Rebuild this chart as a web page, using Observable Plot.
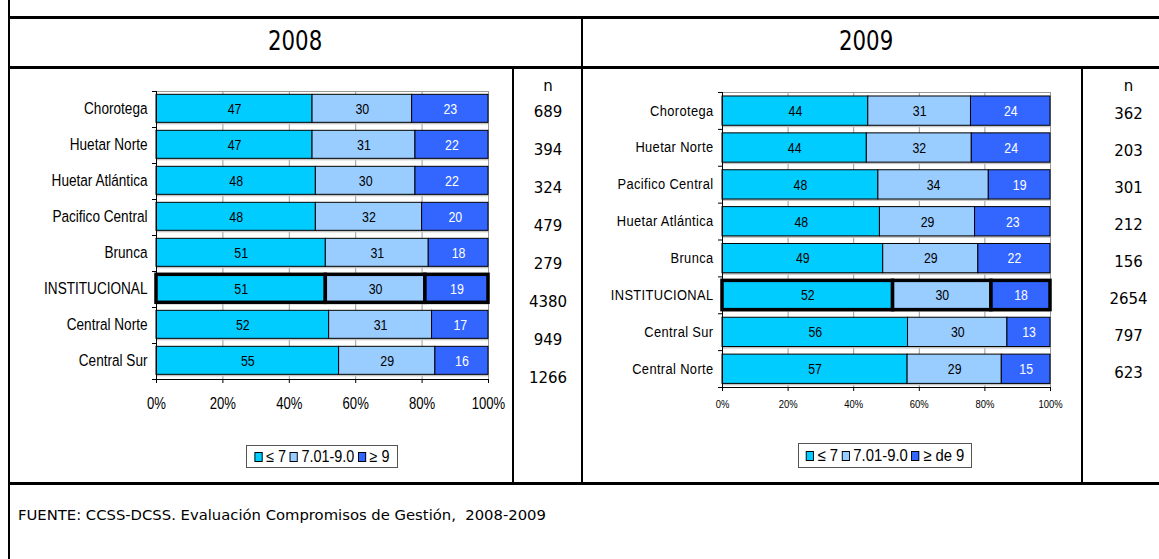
<!DOCTYPE html>
<html><head><meta charset="utf-8">
<script src="https://cdn.jsdelivr.net/npm/d3@7"></script>
<script src="https://cdn.jsdelivr.net/npm/@observablehq/plot@0.6"></script>
<style>
body{margin:0;background:#fff;}
#root{position:relative;width:1159px;height:559px;overflow:hidden;background:#fff;font-family:"DejaVu Sans",Verdana,sans-serif;color:#000;}
.ln{position:absolute;background:#000;}
.hdr{position:absolute;font-size:26px;text-align:center;line-height:49px;height:49px;}
.hdr span{display:inline-block;transform:scaleX(.82);}
.legend{position:absolute;box-sizing:border-box;border:1px solid #555;display:flex;align-items:center;justify-content:center;font-family:"Liberation Sans",Arial,sans-serif;white-space:nowrap;}
.legend .inner{display:flex;align-items:center;transform:scaleX(.9);}
.legend .it{display:flex;align-items:center;margin:0 2px;}
.legend .sw{display:inline-block;width:9px;height:10px;border:1px solid #000;margin-right:4px;box-sizing:border-box;}
.foot{position:absolute;left:18px;top:506px;font-size:14.8px;white-space:pre;}
.plotbox{position:absolute;}
.plotbox svg{max-width:none !important;}
</style></head>
<body><div id="root"></div>
<script>
// ---------- data ----------
const regions2008 = ["Chorotega","Huetar Norte","Huetar Atlántica","Pacifico Central","Brunca","INSTITUCIONAL","Central Norte","Central Sur"];
const low2008  = [47,47,48,48,51,51,52,55];
const mid2008  = [30,31,30,32,31,30,31,29];
const high2008 = [23,22,22,20,18,19,17,16];
const n2008    = [689,394,324,479,279,4380,949,1266];

const regions2009 = ["Chorotega","Huetar Norte","Pacifico Central","Huetar Atlántica","Brunca","INSTITUCIONAL","Central Sur","Central Norte"];
const low2009  = [44,44,48,48,49,52,56,57];
const mid2009  = [31,32,34,29,29,30,30,29];
const high2009 = [24,24,19,23,22,18,13,15];
const n2009    = [362,203,301,212,156,2654,797,623];

const levels2008 = ["≤ 7","7.01-9.0","≥ 9"];
const levels2009 = ["≤ 7","7.01-9.0","≥ de 9"];
const colors = ["#00CCFF","#99CCFF","#3366FF"];
const xTicks = [0,20,40,60,80,100];
const years = ["2008","2009"];
const highlight = "INSTITUCIONAL";
const source = "FUENTE: CCSS-DCSS. Evaluación Compromisos de Gestión,  2008-2009";

// ---------- helpers ----------
const SANS = '"Liberation Sans",Arial,sans-serif';
const VERD = '"DejaVu Sans",Verdana,sans-serif';
const root = document.getElementById("root");

function line(x, y, w, h) {
  const d = document.createElement("div");
  d.className = "ln";
  Object.assign(d.style, {left: x + "px", top: y + "px", width: w + "px", height: h + "px"});
  root.appendChild(d);
}
function place(el, left, top, w) {
  const wrap = document.createElement("div");
  wrap.className = "plotbox";
  wrap.style.left = left + "px";
  wrap.style.top = top + "px";
  wrap.style.width = w + "px";
  wrap.appendChild(el);
  root.appendChild(wrap);
}
// horizontally condense svg text around its own anchor (narrow-font look)
function condense(sel, s) {
  sel.each(function () {
    const el = d3.select(this);
    const ax = el.attr("x"), ay = el.attr("y");
    const numX = ax != null && !/em$/.test(ax), numY = ay != null && !/em$/.test(ay);
    const x = numX ? +ax : 0, y = numY ? +ay : 0;
    if (numX) el.attr("x", null);
    if (numY) el.attr("y", null);
    const tr = el.attr("transform") || "";
    el.attr("transform", `${tr} translate(${x},${y}) scale(${s},1)`);
  });
}
function buildSegments(regions, series, levels) {
  const segs = [];
  regions.forEach((r, i) => {
    const vals = series.map(s => s[i]);
    const total = d3.sum(vals);
    let acc = 0;
    vals.forEach((v, k) => {
      segs.push({i, region: r, k, level: levels[k], v, x1: acc / total * 100, x2: (acc + v) / total * 100});
      acc += v;
    });
  });
  return segs;
}

function barChart(o) {
  const segs = buildSegments(o.regions, o.series, o.levels);
  const N = o.regions.length;
  const idx = d3.range(N);
  const t = o.barTop, b = o.barBot, m = (t + b) / 2;
  const tickLen = 4 / ((o.width - o.ml - o.mr) / 100);
  const svg = Plot.plot({
    width: o.width, height: o.height,
    marginLeft: o.ml, marginRight: o.mr, marginTop: o.mt, marginBottom: o.mb,
    style: {background: "transparent", overflow: "visible", maxWidth: "none"},
    x: {domain: [0, 100], axis: null},
    y: {domain: [0, N], reverse: true, axis: null},
    color: {domain: o.levels, range: colors},
    marks: [
      Plot.ruleX(xTicks.slice(1), {y1: 0, y2: N, stroke: "#9a9a9a", strokeWidth: 1}),
      Plot.ruleY([0], {x1: 0, x2: 100, stroke: "#9a9a9a"}),
      Plot.rectX(idx, {x1: 0, x2: 100, y1: i => i + t, y2: i => i + b, dy: 2, fill: "#c4c4c4"}),
      Plot.rectX(segs, {x1: "x1", x2: "x2", y1: d => d.i + t, y2: d => d.i + b, fill: "level",
        stroke: "#000", strokeWidth: d => d.region === highlight ? 3.5 : 1}),
      Plot.text(segs.filter(d => d.k < 2), {x: d => (d.x1 + d.x2) / 2, y: d => d.i + m, text: "v",
        fill: "#000", fontSize: o.valFont, fontFamily: SANS, ariaDescription: "values"}),
      Plot.text(segs.filter(d => d.k === 2), {x: d => (d.x1 + d.x2) / 2, y: d => d.i + m, text: "v",
        fill: "#fff", fontSize: o.valFont, fontFamily: SANS, ariaDescription: "values"}),
      Plot.text(idx, {x: 0, y: i => i + m, text: i => o.regions[i], textAnchor: "end", dx: -9,
        fontSize: o.catFont, fontFamily: SANS, fill: "#000", ariaDescription: "categories"}),
      Plot.ruleX([0], {y1: 0, y2: N, stroke: "#000"}),
      Plot.ruleY(d3.range(N + 1), {x1: -tickLen, x2: 0, stroke: "#000"}),
      Plot.ruleY([N], {x1: 0, x2: 100, stroke: "#000"}),
      Plot.axisX(xTicks, {anchor: "bottom", tickSize: 4, tickPadding: o.tickPad, tickFormat: d => d + "%",
        fontSize: o.tickFont, fontFamily: SANS, label: null, stroke: "#000", fill: "#000"})
    ]
  });
  const s = d3.select(svg);
  const cats = s.selectAll('g[aria-description="categories"] text');
  if (o.catSpacing) cats.style("letter-spacing", o.catSpacing);
  condense(cats, o.catScale);
  condense(s.selectAll('g[aria-description="values"] text'), o.valScale);
  condense(s.selectAll('g[aria-label="x-axis tick label"] text'), o.tickScale);
  return svg;
}

function nColumn(o) {
  return Plot.plot({
    width: o.width, height: o.height, margin: 0,
    style: {background: "transparent", overflow: "visible", maxWidth: "none"},
    x: {domain: [0, 1], axis: null},
    y: {type: "point", domain: o.regions, range: o.range, padding: 0, axis: null},
    marks: [
      Plot.text(["n"], {frameAnchor: "top", dy: o.headerY, fontSize: 15, fontFamily: VERD, fill: "#000"}),
      Plot.text(o.n, {x: 0.5, y: (d, i) => o.regions[i], text: d => String(d), fontSize: 15, fontFamily: VERD, fill: "#000"})
    ]
  });
}

function legend(levels, left, top, width, height, fs) {
  const d = document.createElement("div");
  d.className = "legend";
  Object.assign(d.style, {left: left + "px", top: top + "px", width: width + "px", height: height + "px", fontSize: fs + "px"});
  const inner = document.createElement("div");
  inner.className = "inner";
  levels.forEach((l, k) => {
    const it = document.createElement("span");
    it.className = "it";
    const sw = document.createElement("span");
    sw.className = "sw";
    sw.style.background = colors[k];
    it.appendChild(sw);
    it.appendChild(document.createTextNode(l));
    inner.appendChild(it);
  });
  d.appendChild(inner);
  root.appendChild(d);
}

// ---------- table frame ----------
line(8, 0, 2, 559);       // left border
line(8, 16, 1151, 3);     // top
line(8, 66, 1151, 3);     // header bottom
line(8, 482, 1151, 3);    // footer top
line(581, 16, 2, 468);    // middle divider
line(512, 66, 2, 418);    // n separator 2008
line(1081, 66, 2, 418);   // n separator 2009

// headers
[[10, 571], [583, 566]].forEach(([l, w], j) => {
  const h = document.createElement("div");
  h.className = "hdr";
  Object.assign(h.style, {left: l + "px", top: "17px", width: w + "px"});
  const s = document.createElement("span");
  s.textContent = years[j];
  h.appendChild(s);
  root.appendChild(h);
});

// ---------- charts ----------
place(barChart({
  regions: regions2008, series: [low2008, mid2008, high2008], levels: levels2008,
  width: 502, height: 413, ml: 146, mr: 24, mt: 22, mb: 103,
  barTop: 0.092, barBot: 0.87, catFont: 17, valFont: 15.5, tickFont: 16, tickPad: 14,
  catScale: 0.8, valScale: 0.8, tickScale: 0.82
}), 10, 69, 502);

place(barChart({
  regions: regions2009, series: [low2009, mid2009, high2009], levels: levels2009,
  width: 497, height: 413, ml: 138, mr: 31, mt: 23, mb: 95,
  barTop: 0.108, barBot: 0.902, catFont: 14, valFont: 15, tickFont: 10.5, tickPad: 9, catSpacing: "0.4px",
  catScale: 0.92, valScale: 0.82, tickScale: 0.9
}), 584, 69, 497);

place(nColumn({regions: regions2008, n: n2008, width: 67, height: 413, headerY: 11, range: [42.7, 308.7]}), 514, 69, 67);
place(nColumn({regions: regions2009, n: n2009, width: 90, height: 413, headerY: 11, range: [43, 305]}), 1083, 69, 90);

legend(levels2008, 246, 445, 152, 23, 16);
legend(levels2009, 798, 443, 174, 25, 16.5);

// footer
const f = document.createElement("div");
f.className = "foot";
f.textContent = source;
root.appendChild(f);
</script>
</body></html>
